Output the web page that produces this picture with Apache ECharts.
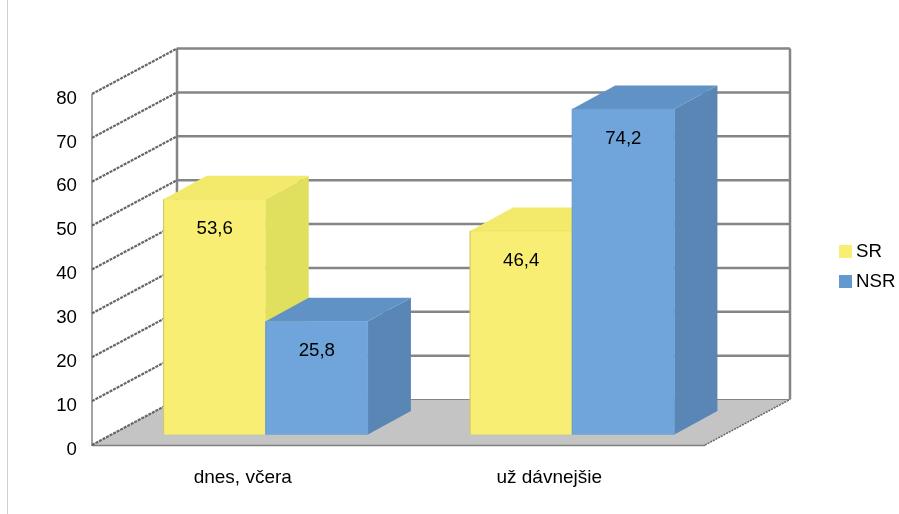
<!DOCTYPE html>
<html>
<head>
<meta charset="utf-8">
<style>html,body{margin:0;padding:0;background:#fff}#c{width:899px;height:514px}</style>
<script src="https://cdn.jsdelivr.net/npm/echarts@6/dist/echarts.min.js"></script>
</head>
<body>
<div id="c"></div>
<script>
var categories = ['dnes, včera', 'už dávnejšie'];
var srValues = [53.6, 46.4];
var nsrValues = [25.8, 74.2];
var ticks = [0, 10, 20, 30, 40, 50, 60, 70, 80];

var FONT = '"Liberation Sans", Arial, sans-serif';
var WALL = {dx: 85, dy: -45.5};
var BAR_BASE = {dx: 20.5, dy: -10.5};
var BAR_DEPTH = {dx: 43, dy: -23.5};
var GREY = '#858585';

function wallItem(params, api) {
  var tick = api.value(1);
  var p = api.coord([0, tick]);
  var catW = api.size([1, 0])[0];
  var x0 = p[0] - catW / 2;
  var x1 = x0 + catW * categories.length;
  var y = p[1];
  var children = [];
  if (tick === 0) {
    var top = api.coord([0, ticks[ticks.length - 1]])[1];
    children.push({type: 'polygon', shape: {points: [[x0, y], [x1, y], [x1 + WALL.dx, y + WALL.dy], [x0 + WALL.dx, y + WALL.dy]]},
      style: {fill: '#c4c4c4', stroke: null}});
    children.push({type: 'line', shape: {x1: x0, y1: y + 0.5, x2: x1, y2: y + 0.5}, style: {stroke: '#7f7f7f', lineWidth: 1.5}});
    children.push({type: 'line', shape: {x1: x0, y1: top, x2: x0, y2: y + 1}, style: {stroke: GREY, lineWidth: 1.5}});
    children.push({type: 'line', shape: {x1: x0 + WALL.dx, y1: top + WALL.dy, x2: x0 + WALL.dx, y2: y + WALL.dy}, style: {stroke: GREY, lineWidth: 2.5}});
    children.push({type: 'line', shape: {x1: x1 + WALL.dx, y1: top + WALL.dy, x2: x1 + WALL.dx, y2: y + WALL.dy}, style: {stroke: GREY, lineWidth: 2.5}});
    children.push({type: 'line', shape: {x1: x1, y1: y, x2: x1 + WALL.dx, y2: y + WALL.dy}, style: {stroke: '#666', lineWidth: 1.5, lineDash: [2, 1]}});
  }
  children.push({type: 'line', shape: {x1: x0 + WALL.dx, y1: y + WALL.dy, x2: x1 + WALL.dx, y2: y + WALL.dy},
    style: {stroke: GREY, lineWidth: tick === 0 ? 1 : 2.5}});
  children.push({type: 'line', shape: {x1: x0, y1: y, x2: x0 + WALL.dx, y2: y + WALL.dy},
    style: {stroke: '#666', lineWidth: 2.2, lineDash: [3, 1]}});
  return {type: 'group', children: children};
}

function barRenderer(barIndex, front, topFill, sideFill, edge, leftEdge) {
  return function (params, api) {
    var cat = api.value(0), val = api.value(1);
    var catW = api.size([1, 0])[0];
    var barW = catW / 3;
    var t = api.coord([cat, val]);
    var b = api.coord([cat, 0]);
    var x0 = t[0] - barW + barIndex * barW + BAR_BASE.dx;
    var x1 = x0 + barW;
    var yt = t[1] + BAR_BASE.dy;
    var yb = b[1] + BAR_BASE.dy;
    var d = BAR_DEPTH;
    return {type: 'group', children: [
      {type: 'polygon', shape: {points: [[x1, yt], [x1 + d.dx, yt + d.dy], [x1 + d.dx, yb + d.dy], [x1, yb]]},
        style: {fill: sideFill, stroke: null}},
      {type: 'polygon', shape: {points: [[x0, yt], [x0 + d.dx, yt + d.dy], [x1 + d.dx, yt + d.dy], [x1, yt]]},
        style: {fill: topFill, stroke: null}},
      {type: 'rect', shape: {x: x0, y: yt, width: barW, height: yb - yt},
        style: {fill: front, stroke: edge, lineWidth: 0.5}},
      {type: 'line', shape: {x1: x0, y1: yt, x2: x0, y2: yb},
        style: {stroke: leftEdge, lineWidth: 1}},
      {type: 'text', style: {x: x0 + barW / 2, y: yt + 30, text: String(val).replace('.', ','),
        fill: '#000', font: '18.67px ' + FONT, align: 'center', verticalAlign: 'middle'}}
    ]};
  };
}

function rows(values) { return values.map(function (v, i) { return [i, v]; }); }

var chart = echarts.init(document.getElementById('c'), null, {renderer: 'canvas'});
chart.setOption({
  animation: false,
  backgroundColor: '#fff',
  textStyle: {fontFamily: FONT},
  grid: {left: 92, right: 194, top: 94, bottom: 69, containLabel: false},
  xAxis: {type: 'category', data: categories, boundaryGap: true,
    axisLine: {show: false}, axisTick: {show: false}, splitLine: {show: false},
    axisLabel: {color: '#000', fontSize: 19, fontFamily: FONT, margin: 23, padding: [0, 5, 0, 0]}},
  yAxis: {type: 'value', min: 0, max: 80, interval: 10,
    axisLine: {show: false}, axisTick: {show: false}, splitLine: {show: false},
    axisLabel: {color: '#000', fontSize: 18.67, fontFamily: FONT, margin: 15, verticalAlign: 'top', lineHeight: 9}},
  legend: {orient: 'vertical', left: 839, top: 242, padding: 0, itemWidth: 13, itemHeight: 13, itemGap: 11,
    icon: 'rect', textStyle: {color: '#000', fontSize: 18.67, fontFamily: FONT, padding: [0, 0, 0, -1]},
    data: [{name: 'SR', itemStyle: {color: '#f9ee74'}}, {name: 'NSR', itemStyle: {color: '#6499cf'}}]},
  graphic: [{type: 'line', shape: {x1: 7.5, y1: 0, x2: 7.5, y2: 514}, style: {stroke: '#cfcfcf', lineWidth: 1}}],
  series: [
    {type: 'custom', name: 'walls', data: ticks.map(function (t) { return [0, t]; }), renderItem: wallItem,
      encode: {x: 0, y: 1}, z: 1, silent: true},
    {type: 'custom', name: 'SR', data: rows(srValues), encode: {x: 0, y: 1}, z: 2, itemStyle: {color: '#f9ee74'},
      renderItem: barRenderer(0, '#f9ee74', '#f3ea6b', '#e0e05e', '#e6dc62', '#cfc766')},
    {type: 'custom', name: 'NSR', data: rows(nsrValues), encode: {x: 0, y: 1}, z: 3, itemStyle: {color: '#6499cf'},
      renderItem: barRenderer(1, '#6fa5da', '#6192c5', '#5a86b5', '#6a9dd0', '#6a9dd0')}
  ]
});
</script>
</body>
</html>
